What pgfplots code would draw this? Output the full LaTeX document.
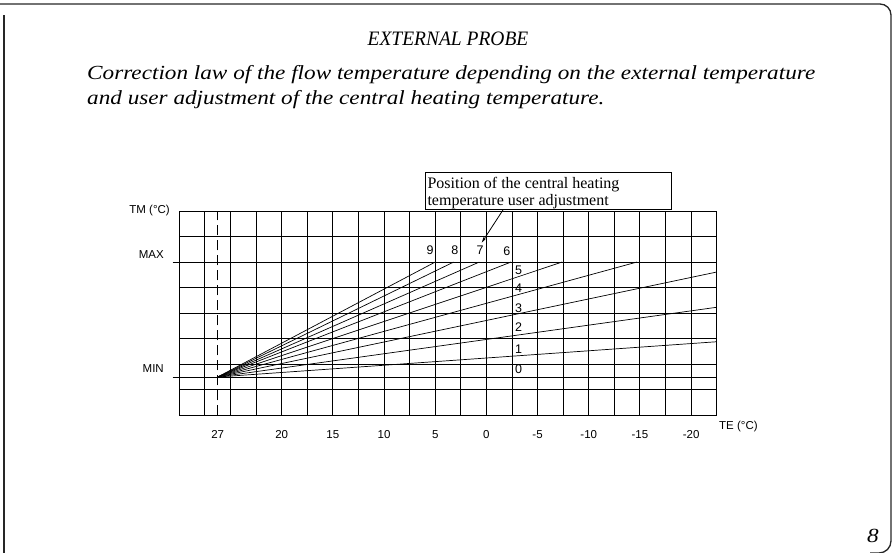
\documentclass[border=0pt]{standalone}
\usepackage{fontspec}
\setmainfont{Liberation Serif}
\newfontfamily\titlefont[FakeStretch=1.16]{Liberation Serif}
\newfontfamily\headfont[FakeStretch=0.95]{Liberation Serif}
\newfontfamily\cad{Liberation Sans}
\usepackage{pgfplots}
\pgfplotsset{compat=1.18}
\usetikzlibrary{arrows.meta}
\begin{document}
\begin{tikzpicture}[x=1pt,y=1pt]
\useasboundingbox (0,0) rectangle (895,553);
% page frame
\draw[line width=1.3pt,color=black!85] (0,549) -- (880,549) arc[start angle=90,end angle=0,radius=11] -- (891,12) arc[start angle=0,end angle=-90,radius=12] -- (870,0);
\draw[line width=1.3pt,color=black!85] (4,0) -- (4,538);
% titles
\node[font=\headfont\itshape\fontsize{20.5}{24}\selectfont,anchor=base] at (448,507.5) {EXTERNAL PROBE};
\node[font=\titlefont\itshape\fontsize{20}{24}\selectfont,anchor=base west,inner sep=0pt] at (87,473.5) {Correction law of the flow temperature depending on the external temperature};
\node[font=\titlefont\itshape\fontsize{20}{24}\selectfont,anchor=base west,inner sep=0pt] at (87,448.5) {and user adjustment of the central heating temperature.};
\node[font=\titlefont\itshape\fontsize{20}{24}\selectfont,anchor=center] at (873,17) {8};
% annotation box
\draw[line width=0.8pt] (425,343.7) rectangle (671.7,380.3);
\node[font=\fontsize{16}{17}\selectfont,anchor=base west,inner sep=0pt] at (427.3,364.7) {Position of the central heating};
\node[font=\fontsize{16}{17}\selectfont,anchor=base west,inner sep=0pt] at (427.3,347.3) {temperature user adjustment};
\draw[line width=0.8pt,-{Stealth[length=6pt,width=3pt]}] (503.3,343.5) -- (481.7,310.3);
% MIN / MAX tick extensions (left of the grid)
\draw[line width=0.9pt] (172.7,291) -- (179.3,291);
\draw[line width=0.9pt] (172.7,176) -- (179.3,176);
\begin{axis}[
  at={(179.3pt,137.7pt)}, anchor=south west,
  width=537.4pt, height=204.3pt, scale only axis,
  xmin=-22.5, xmax=30, x dir=reverse,
  ymin=0, ymax=8,
  axis line style={line width=0.9pt},
  xtick={26.25,20,15,10,5,0,-5,-10,-15,-20},
  xticklabels={27,20,15,10,5,0,-5,-10,-15,-20},
  ytick={1.5,6}, yticklabels={MIN,MAX},
  minor xtick={-22.5,-20,...,30},
  minor ytick={0,1,1.5,2,3,4,5,6,7,8},
  grid=minor,
  minor grid style={line width=0.9pt,black},
  major tick length=0pt, minor tick length=0pt,
  xticklabel style={font=\cad\fontsize{11.5}{12}\selectfont,anchor=base,yshift=-23pt},
  yticklabel style={font=\cad\fontsize{11.5}{12}\selectfont,anchor=east,inner sep=0pt,xshift=-15.3pt,yshift=8pt},
  clip=false,
]
% dashed line at 27
\addplot[line width=0.9pt,dash pattern=on 10pt off 5pt] coordinates {(26.25,0) (26.25,8)};
% correction curves 0..9
\addplot[line width=0.7pt] coordinates {(26.25,1.5) (-22.5,1.5)};
\addplot[line width=0.7pt] coordinates {(26.25,1.5) (-22.5,2.88)};
\addplot[line width=0.7pt] coordinates {(26.25,1.5) (-22.5,4.23)};
\addplot[line width=0.7pt] coordinates {(26.25,1.5) (-22.5,5.61)};
\addplot[line width=0.7pt] coordinates {(26.25,1.5) (-14.7,6)};
\addplot[line width=0.7pt] coordinates {(26.25,1.5) (-7.4,6)};
\addplot[line width=0.7pt] coordinates {(26.25,1.5) (-2.4,6)};
\addplot[line width=0.7pt] coordinates {(26.25,1.5) (0.7,6)};
\addplot[line width=0.7pt] coordinates {(26.25,1.5) (3.2,6)};
\addplot[line width=0.7pt] coordinates {(26.25,1.5) (5.0,6)};
% curve numbers
\begin{scope}[every node/.style={font=\cad\fontsize{12.5}{13}\selectfont,inner sep=0pt}]
\node at (axis cs:5.5,6.47) {9};
\node at (axis cs:3.07,6.47) {8};
\node at (axis cs:0.62,6.47) {7};
\node at (axis cs:-1.99,6.42) {6};
\node[anchor=west] at (axis cs:-2.8,5.66) {5};
\node[anchor=west] at (axis cs:-2.8,4.97) {4};
\node[anchor=west] at (axis cs:-2.8,4.19) {3};
\node[anchor=west] at (axis cs:-2.8,3.45) {2};
\node[anchor=west] at (axis cs:-2.8,2.57) {1};
\node[anchor=west] at (axis cs:-2.8,1.80) {0};
\end{scope}
\node[font=\cad\fontsize{11.5}{12}\selectfont,anchor=east,inner sep=0pt] at (axis cs:30,8) [xshift=-9.3pt] {TM (°C)};
\node[font=\cad\fontsize{11.5}{12}\selectfont,anchor=west,inner sep=0pt] at (axis cs:-22.5,0) [xshift=2.3pt,yshift=-11.3pt] {TE (°C)};
\end{axis}
\end{tikzpicture}
\end{document}
